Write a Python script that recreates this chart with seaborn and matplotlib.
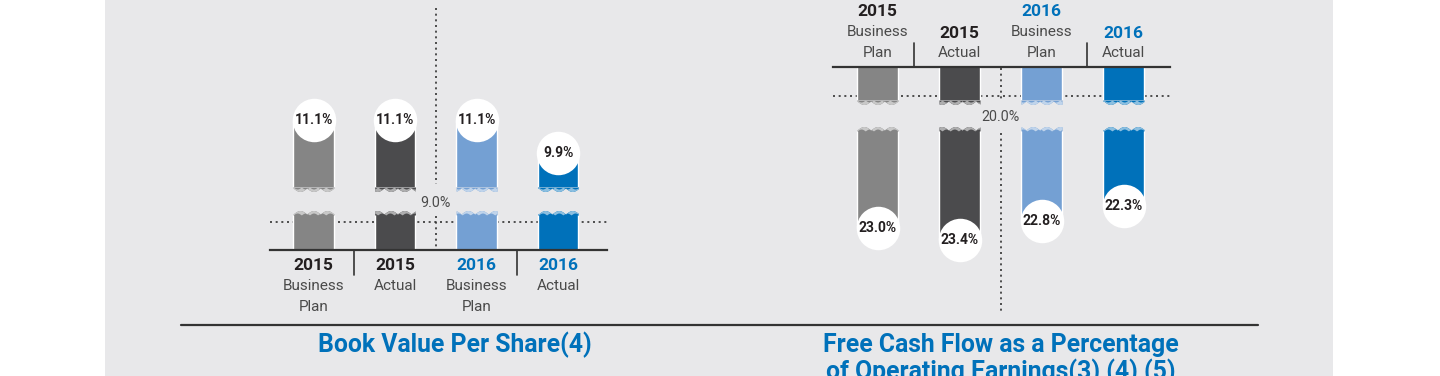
import numpy as np
import matplotlib
matplotlib.use("Agg")
import matplotlib.pyplot as plt
from matplotlib.patches import Rectangle
from matplotlib.lines import Line2D
import matplotlib.colors as mcolors
import seaborn as sns

# ---------------- data ----------------
categories = ["2015 Business Plan", "2015 Actual", "2016 Business Plan", "2016 Actual"]
years = ["2015", "2015", "2016", "2016"]
kinds = [["Business", "Plan"], ["Actual"], ["Business", "Plan"], ["Actual"]]
bvps_values = [11.1, 11.1, 11.1, 9.9]
bvps_ref = 9.0
fcf_values = [23.0, 23.4, 22.8, 22.3]
fcf_ref = 20.0
left_title = ["Book Value Per Share(4)"]
right_title = ["Free Cash Flow as a Percentage", "of Operating Earnings(3) (4) (5)"]

# ---------------- style ----------------
bar_colors = ["#858585", "#4b4b4d", "#74a0d3", "#0071ba"]
year_colors = ["#231f20", "#231f20", "#0071ba", "#0071ba"]
BG = "#e8e8ea"
DARK = "#333333"
GRAY_TXT = "#4a4a4a"
BLUE = "#0071ba"

W, H = 1440, 376
sns.set_theme(style="white")
plt.rcParams['font.family'] = ['Roboto', 'DejaVu Sans']

fig = plt.figure(figsize=(W / 100, H / 100), dpi=100)
fig.patch.set_facecolor("white")
fig.add_artist(Rectangle((105 / W, 0), (1333 - 105) / W, 1, transform=fig.transFigure,
                         facecolor=BG, edgecolor="none", zorder=-10))


def add_ax(x0, y0, x1, y1):
    ax = fig.add_axes([x0 / W, 1 - y1 / H, (x1 - x0) / W, (y1 - y0) / H])
    ax.set_facecolor("none")
    for s in ax.spines.values():
        s.set_visible(False)
    ax.set_xticks([])
    ax.set_yticks([])
    return ax


def bars(ax, values, xlim, ylim):
    sns.barplot(x=categories, y=values, hue=categories, order=categories,
                hue_order=categories, palette=bar_colors, saturation=1,
                width=0.5, legend=False, ax=ax, zorder=2)
    ax.set_xlim(*xlim)
    ax.set_ylim(*ylim)
    ax.set_xticks([])
    ax.set_yticks([])
    ax.set_xlabel("")
    ax.set_ylabel("")
    for s in ax.spines.values():
        s.set_visible(False)


def tint(c, f=0.55):
    r = np.array(mcolors.to_rgb(c))
    return tuple(r + (1 - r) * f)


def torn_edge(frame, y_edge, direction):
    # decorative torn-paper edge at a break of the bars (pixel coordinates)
    for i, c in enumerate(bar_colors):
        xs = np.linspace(i - 0.25, i + 0.25, 60)
        t = np.linspace(0, 1, 60)
        w1 = np.abs(np.sin(t * np.pi * 3 + i)) * 3.5
        w2 = np.abs(np.sin(t * np.pi * 5 + 2 * i)) * 2.0
        frame.fill_between(xs, y_edge, y_edge + direction * (w1 + 1.0),
                           color=c, linewidth=0, zorder=3)
        frame.fill_between(xs, y_edge + direction * w2, y_edge + direction * (w1 + 1.0),
                           color=tint(c), linewidth=0, zorder=3)


DOT = (0, (1.2, 2.2))
VAL_FS = 10
LAB_FS = 11
YEAR_FS = 12.5
REF_FS = 10.3
TITLE_FS = 17.8

# ================= LEFT CHART: Book Value Per Share =================
L_XL = (-0.534, 3.60)
axl_lo = add_ax(270, 215, 607, 250)
bars(axl_lo, bvps_values, L_XL, (8.0, 9.25))
axl_lo.axhline(bvps_ref, color=DARK, lw=1.2, ls=DOT, zorder=0)
axl_lo.spines["bottom"].set_visible(True)
axl_lo.spines["bottom"].set_color(DARK)
axl_lo.spines["bottom"].set_linewidth(1.6)

axl_hi = add_ax(270, 95, 607, 187)
bars(axl_hi, bvps_values, L_XL, (8.664, 12.01))
for i, v in enumerate(bvps_values):
    axl_hi.scatter([i], [v], s=980, color="white", zorder=4, clip_on=False, linewidths=0)
    axl_hi.text(i, v, f"{v:.1f}%", ha="center", va="center", fontsize=VAL_FS,
                fontweight="bold", color="#231f20", zorder=5, clip_on=False)

frl = add_ax(270, 0, 607, H)
frl.set_xlim(*L_XL)
frl.set_ylim(H, 0)
frl.axis("off")
torn_edge(frl, 215, -1)
torn_edge(frl, 187, 1)
frl.plot([1.5, 1.5], [8, 184], color=DARK, lw=1.2, ls=DOT, zorder=1)
frl.plot([1.5, 1.5], [216, 250], color=DARK, lw=1.2, ls=DOT, zorder=1)
frl.text(1.5, 203, f"{bvps_ref:.1f}%", ha="center", va="center", fontsize=REF_FS, color=GRAY_TXT)
for sep in [0.5, 2.5]:
    frl.plot([sep, sep], [250, 275], color=DARK, lw=1.2)
for i in range(4):
    frl.text(i, 265, years[i], ha="center", va="center", fontsize=YEAR_FS,
             fontweight="bold", color=year_colors[i])
    for j, line in enumerate(kinds[i]):
        frl.text(i, 286 + 21 * j, line, ha="center", va="center", fontsize=LAB_FS,
                 color=GRAY_TXT)

# ================= RIGHT CHART: Free Cash Flow =================
R_XL = (-0.543, 3.567)
axr_hi = add_ax(833, 67, 1170, 100)
bars(axr_hi, fcf_values, R_XL, (20.13, 19.065))
axr_hi.axhline(fcf_ref, color=DARK, lw=1.2, ls=DOT, zorder=0)
axr_hi.spines["top"].set_visible(True)
axr_hi.spines["top"].set_color(DARK)
axr_hi.spines["top"].set_linewidth(1.6)

axr_lo = add_ax(833, 131, 1170, 262)
bars(axr_lo, fcf_values, R_XL, (24.11, 19.88))
for i, v in enumerate(fcf_values):
    axr_lo.scatter([i], [v], s=980, color="white", zorder=4, clip_on=False, linewidths=0)
    axr_lo.text(i, v, f"{v:.1f}%", ha="center", va="center", fontsize=VAL_FS,
                fontweight="bold", color="#231f20", zorder=5, clip_on=False)

frr = add_ax(833, 0, 1170, H)
frr.set_xlim(*R_XL)
frr.set_ylim(H, 0)
frr.axis("off")
torn_edge(frr, 100, 1)
torn_edge(frr, 131, -1)
frr.plot([1.5, 1.5], [68, 100], color=DARK, lw=1.2, ls=DOT, zorder=1)
frr.plot([1.5, 1.5], [133, 312], color=DARK, lw=1.2, ls=DOT, zorder=1)
frr.text(1.5, 117, f"{fcf_ref:.1f}%", ha="center", va="center", fontsize=REF_FS, color=GRAY_TXT)
for sep in [0.44, 2.56]:
    frr.plot([sep, sep], [43, 67], color=DARK, lw=1.2)
for i in range(4):
    n = len(kinds[i])
    for j, line in enumerate(kinds[i]):
        frr.text(i, 53 - 21 * (n - 1 - j), line, ha="center", va="center",
                 fontsize=LAB_FS, color=GRAY_TXT)
    frr.text(i, 53 - 21 * n + 1, years[i], ha="center", va="center", fontsize=YEAR_FS,
             fontweight="bold", color=year_colors[i])

# ================= bottom rule and titles =================
fig.add_artist(Line2D([181 / W, 1258 / W], [1 - 325 / H, 1 - 325 / H],
                      transform=fig.transFigure, color=DARK, lw=1.6))
for j, line in enumerate(left_title):
    fig.text(455 / W, 1 - (345 + 27 * j) / H, line, ha="center", va="center",
             fontsize=TITLE_FS, fontweight="bold", color=BLUE)
for j, line in enumerate(right_title):
    fig.text(1001 / W, 1 - (345 + 27 * j) / H, line, ha="center", va="center",
             fontsize=TITLE_FS, fontweight="bold", color=BLUE)

fig.savefig("out.png", dpi=100, facecolor="white")
